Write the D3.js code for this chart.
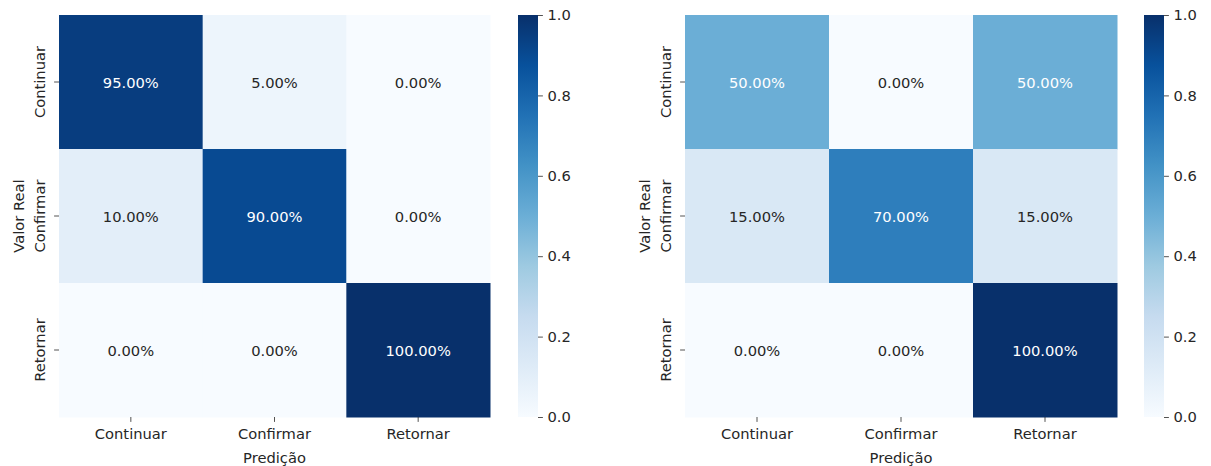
<!DOCTYPE html>
<html>
<head>
<meta charset="utf-8">
<script src="https://cdn.jsdelivr.net/npm/d3@7"></script>
<style>
  html, body { margin: 0; padding: 0; background: #fff; }
  svg { display: block; }
  text { font-family: "DejaVu Sans", sans-serif; }
</style>
</head>
<body>
<svg id="chart" width="1211" height="466"></svg>
<script>
// Class labels shared by both confusion matrices
const categories = ["Continuar", "Confirmar", "Retornar"];

// Row-normalised confusion matrices (rows: true class, columns: predicted class)
const matrixLeft = [
  [0.95, 0.05, 0.00],
  [0.10, 0.90, 0.00],
  [0.00, 0.00, 1.00]
];
const matrixRight = [
  [0.50, 0.00, 0.50],
  [0.15, 0.70, 0.15],
  [0.00, 0.00, 1.00]
];

// Colour bar ticks
const colorbarTicks = [0.0, 0.2, 0.4, 0.6, 0.8, 1.0];

// Axis titles
const xTitle = "Predição";
const yTitle = "Valor Real";

// Blues colormap: linear segments between the nine ColorBrewer anchors
const bluesAnchors = ["#f7fbff", "#deebf7", "#c6dbef", "#9ecae1", "#6baed6",
                      "#4292c6", "#2171b5", "#08519c", "#08306b"];
const color = d3.scaleLinear()
  .domain(bluesAnchors.map((_, i) => i / (bluesAnchors.length - 1)))
  .range(bluesAnchors)
  .interpolate(d3.interpolateRgb)
  .clamp(true);

const svg = d3.select("#chart");
const FONT = 14.7;
const TEXT_DARK = "#262626";
const TICK_COLOR = "#262626";

function luminance(c) {
  const rgb = d3.rgb(c);
  const lin = v => { v /= 255; return v <= 0.03928 ? v / 12.92 : Math.pow((v + 0.055) / 1.055, 2.4); };
  return 0.2126 * lin(rgb.r) + 0.7152 * lin(rgb.g) + 0.0722 * lin(rgb.b);
}

function drawHeatmap(id, matrix, x0, width, cbX0) {
  const top = 15, height = 402;
  const g = svg.append("g").attr("id", id);

  const x = d3.scaleBand().domain(categories).range([x0, x0 + width]).padding(0);
  const y = d3.scaleBand().domain(categories).range([top, top + height]).padding(0);

  const cells = [];
  matrix.forEach((row, i) => row.forEach((v, j) => cells.push({ r: categories[i], c: categories[j], v })));

  g.selectAll("rect.cell").data(cells).join("rect")
    .attr("class", "cell")
    .attr("x", d => x(d.c))
    .attr("y", d => y(d.r))
    .attr("width", x.bandwidth() + 0.5)
    .attr("height", y.bandwidth() + 0.5)
    .attr("fill", d => color(d.v));

  g.selectAll("text.annot").data(cells).join("text")
    .attr("class", "annot")
    .attr("x", d => x(d.c) + x.bandwidth() / 2)
    .attr("y", d => y(d.r) + y.bandwidth() / 2)
    .attr("text-anchor", "middle")
    .attr("dominant-baseline", "central")
    .attr("font-size", FONT)
    .attr("fill", d => luminance(color(d.v)) > 0.408 ? TEXT_DARK : "#ffffff")
    .text(d => (d.v * 100).toFixed(2) + "%");

  // x axis: ticks at cell centres below the matrix
  const xAxis = d3.axisBottom(x).tickSize(4.9).tickPadding(7);
  const xa = g.append("g").attr("transform", `translate(0,${top + height})`).call(xAxis);
  xa.select(".domain").remove();
  xa.selectAll(".tick line").attr("stroke", TICK_COLOR).attr("stroke-width", 0.8);
  xa.selectAll(".tick text").attr("font-size", FONT).attr("fill", TEXT_DARK)
    .attr("font-family", "DejaVu Sans, sans-serif");

  // y axis: rotated labels to the left
  const yAxis = d3.axisLeft(y).tickSize(4.9).tickPadding(0);
  const ya = g.append("g").attr("transform", `translate(${x0},0)`).call(yAxis);
  ya.select(".domain").remove();
  ya.selectAll(".tick line").attr("stroke", TICK_COLOR).attr("stroke-width", 0.8);
  ya.selectAll(".tick text")
    .attr("font-size", FONT).attr("fill", TEXT_DARK)
    .attr("font-family", "DejaVu Sans, sans-serif")
    .attr("x", null).attr("dy", null)
    .attr("text-anchor", "middle")
    .attr("transform", `translate(${-14},0) rotate(-90)`);

  // axis titles
  g.append("text")
    .attr("x", x0 + width / 2)
    .attr("y", 462.5)
    .attr("text-anchor", "middle")
    .attr("font-size", FONT)
    .attr("fill", TEXT_DARK)
    .text(xTitle);

  g.append("text")
    .attr("transform", `translate(${x0 - 35},${top + height / 2}) rotate(-90)`)
    .attr("text-anchor", "middle")
    .attr("font-size", FONT)
    .attr("fill", TEXT_DARK)
    .text(yTitle);

  // colour bar
  const cbW = 20;
  const gradId = id + "-grad";
  const grad = svg.append("defs").append("linearGradient")
    .attr("id", gradId).attr("x1", 0).attr("y1", 1).attr("x2", 0).attr("y2", 0);
  grad.selectAll("stop").data(bluesAnchors).join("stop")
    .attr("offset", (_, i) => i / (bluesAnchors.length - 1))
    .attr("stop-color", d => d);

  g.append("rect")
    .attr("x", cbX0).attr("y", top)
    .attr("width", cbW).attr("height", height)
    .attr("fill", `url(#${gradId})`);

  const cbScale = d3.scaleLinear().domain([0, 1]).range([top + height, top]);
  const cbAxis = d3.axisRight(cbScale).tickValues(colorbarTicks)
    .tickFormat(d3.format(".1f")).tickSize(4.9).tickPadding(4.5);
  const ca = g.append("g").attr("transform", `translate(${cbX0 + cbW},0)`).call(cbAxis);
  ca.select(".domain").remove();
  ca.selectAll(".tick line").attr("stroke", TICK_COLOR).attr("stroke-width", 0.8);
  ca.selectAll(".tick text").attr("font-size", FONT).attr("fill", TEXT_DARK)
    .attr("font-family", "DejaVu Sans, sans-serif");
}

drawHeatmap("left", matrixLeft, 59, 431, 518);
drawHeatmap("right", matrixRight, 685, 432, 1144);
</script>
</body>
</html>
